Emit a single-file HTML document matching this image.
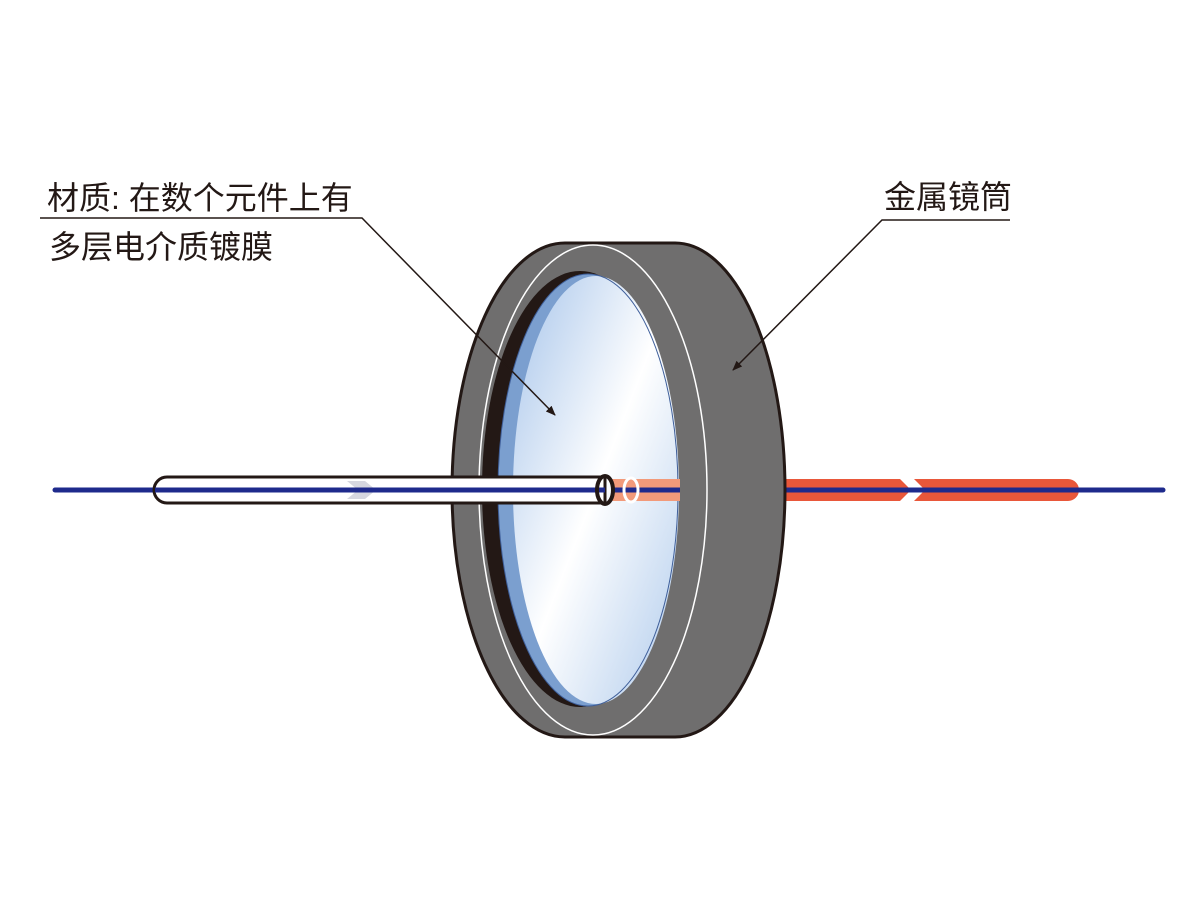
<!DOCTYPE html>
<html><head><meta charset="utf-8"><style>html,body{margin:0;padding:0;background:#fff}svg{display:block}</style></head>
<body>
<svg width="1200" height="900" viewBox="0 0 1200 900" xmlns="http://www.w3.org/2000/svg">
<defs>
<linearGradient id="lg" x1="0" y1="0" x2="1" y2="1">
<stop offset="0" stop-color="#a6c4ea"/>
<stop offset="0.5" stop-color="#ffffff"/>
<stop offset="1" stop-color="#b0cbec"/>
</linearGradient>
<marker id="ah" markerWidth="10" markerHeight="8" refX="9" refY="4" orient="auto" markerUnits="userSpaceOnUse">
<path d="M0,0 L20,4 L0,8 z" fill="#231815" transform="scale(0.5,1)"/>
</marker>
</defs>
<line x1="55" y1="490" x2="1163" y2="490" stroke="#1e2a8c" stroke-width="5" stroke-linecap="round"/>
<path d="M785,479 H900 L911,490 L900,501 H785 Z" fill="#e9573a"/>
<path d="M914,479 H1068 A11,11 0 0 1 1068,501 H914 L925,490 Z" fill="#e9573a"/>
<line x1="785" y1="490" x2="1163" y2="490" stroke="#1e2a8c" stroke-width="5"/>
<path d="M565,243 H675 A110,247 0 0 1 675,737 H565 A113,247 0 0 1 565,243 Z" fill="#6f6e6e" stroke="#231815" stroke-width="3"/>
<ellipse cx="593" cy="490" rx="114" ry="245" fill="none" stroke="#fff" stroke-width="1.5"/>
<ellipse cx="580" cy="489" rx="98" ry="218" fill="#231815"/>
<ellipse cx="588" cy="490" rx="90" ry="216" fill="#7b9fcf"/>
<ellipse cx="596" cy="490" rx="83" ry="214" fill="url(#lg)"/>
<ellipse cx="588" cy="490" rx="90" ry="216" fill="none" stroke="#3f5f9a" stroke-width="1"/>
<rect x="612" y="479" width="68" height="22" fill="#f29a7a"/>
<line x1="612" y1="490" x2="680" y2="490" stroke="#1e2a8c" stroke-width="5"/>
<ellipse cx="631" cy="490" rx="7" ry="12" fill="none" stroke="#fff" stroke-width="3"/>
<path d="M167,477 H605 V503 H167 A13,13 0 0 1 167,477 Z" fill="#fff" stroke="#231815" stroke-width="3"/>
<path d="M347,481 L365,481 L376,490 L365,499 L347,499 L358,490 Z" fill="#d6d7e0"/>
<line x1="155" y1="490" x2="605" y2="490" stroke="#1e2a8c" stroke-width="5"/>
<ellipse cx="605" cy="490" rx="8" ry="14" fill="none" stroke="#231815" stroke-width="4"/>
<polyline points="40,218 362,218 555,415" fill="none" stroke="#231815" stroke-width="1.5" marker-end="url(#ah)"/>
<polyline points="1010,220 882,220 733,370" fill="none" stroke="#231815" stroke-width="1.5" marker-end="url(#ah)"/>
<g font-family="'Liberation Sans','Noto Sans CJK SC',sans-serif" font-size="32" fill="#231815">
<text x="47" y="209">材质: 在数个元件上有</text>
<text x="49" y="258">多层电介质镀膜</text>
<text x="884" y="208">金属镜筒</text>
</g>
</svg>
</body></html>
